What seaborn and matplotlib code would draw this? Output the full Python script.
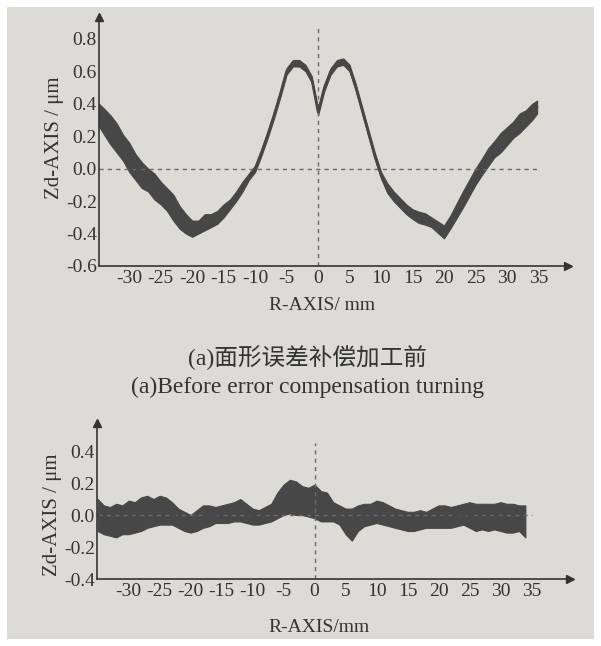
import numpy as np
import matplotlib
matplotlib.use("Agg")
import matplotlib.pyplot as plt
import seaborn as sns
import pandas as pd
from matplotlib.patches import Rectangle

# ---- data (values in um, positions in mm) ----
# (a) before compensation: centre of the measured band and its half width
R_TOP = [-34.8] + list(range(-34, 35)) + [34.8]
Z_TOP = [0.33, 0.29, 0.24, 0.19, 0.13, 0.07, 0.01, -0.04, -0.07, -0.11,
         -0.15, -0.19, -0.24, -0.30, -0.34, -0.37, -0.36, -0.33, -0.32, -0.30,
         -0.26, -0.22, -0.17, -0.11, -0.05, 0.00, 0.10, 0.21, 0.33, 0.46,
         0.60, 0.65, 0.65, 0.62, 0.55, 0.35, 0.50, 0.60, 0.65, 0.66,
         0.62, 0.50, 0.36, 0.22, 0.08, -0.04, -0.12, -0.17, -0.21, -0.25,
         -0.28, -0.30, -0.31, -0.33, -0.36, -0.39, -0.33, -0.26, -0.19, -0.12,
         -0.05, 0.01, 0.07, 0.12, 0.16, 0.20, 0.24, 0.28, 0.31, 0.35,
         0.38]
HW_TOP = [0.07, 0.08, 0.09, 0.09, 0.08, 0.09, 0.08, 0.08, 0.07, 0.08,
          0.07, 0.07, 0.08, 0.07, 0.06, 0.05, 0.04, 0.05, 0.04, 0.04,
          0.04, 0.03, 0.03, 0.03, 0.02, 0.02, 0.02, 0.02, 0.02, 0.02,
          0.02, 0.02, 0.02, 0.02, 0.02, 0.02, 0.02, 0.02, 0.02, 0.02,
          0.02, 0.02, 0.02, 0.02, 0.02, 0.02, 0.03, 0.03, 0.03, 0.03,
          0.03, 0.035, 0.035, 0.03, 0.035, 0.04, 0.04, 0.045, 0.05, 0.05,
          0.05, 0.05, 0.055, 0.05, 0.06, 0.055, 0.05, 0.06, 0.05, 0.05,
          0.04]

# (b) after compensation: upper / lower edge of the measured band
R_BOT = list(range(-35, 35))
UP_BOT = [0.10, 0.06, 0.05, 0.07, 0.06, 0.09, 0.08, 0.11, 0.12, 0.10,
          0.12, 0.11, 0.08, 0.04, 0.02, 0.00, 0.03, 0.06, 0.06, 0.05,
          0.06, 0.07, 0.08, 0.10, 0.07, 0.04, 0.03, 0.05, 0.07, 0.14,
          0.19, 0.22, 0.21, 0.18, 0.17, 0.19, 0.15, 0.14, 0.08, 0.06,
          0.04, 0.04, 0.06, 0.07, 0.07, 0.09, 0.08, 0.06, 0.04, 0.03,
          0.02, 0.02, 0.03, 0.02, 0.04, 0.06, 0.06, 0.05, 0.06, 0.07,
          0.08, 0.07, 0.07, 0.07, 0.07, 0.08, 0.07, 0.07, 0.06, 0.06]
LO_BOT = [-0.10, -0.12, -0.13, -0.14, -0.12, -0.12, -0.11, -0.10, -0.08, -0.07,
          -0.06, -0.06, -0.06, -0.08, -0.10, -0.11, -0.10, -0.08, -0.07, -0.05,
          -0.05, -0.05, -0.04, -0.04, -0.05, -0.06, -0.06, -0.05, -0.04, -0.02,
          0.00, 0.01, 0.00, 0.00, -0.01, -0.02, -0.04, -0.04, -0.04, -0.06,
          -0.12, -0.16, -0.10, -0.07, -0.06, -0.05, -0.06, -0.07, -0.08, -0.09,
          -0.10, -0.10, -0.09, -0.08, -0.08, -0.08, -0.08, -0.08, -0.07, -0.06,
          -0.08, -0.10, -0.09, -0.10, -0.09, -0.10, -0.11, -0.11, -0.10, -0.14]

X_TICKS = [-30, -25, -20, -15, -10, -5, 0, 5, 10, 15, 20, 25, 30, 35]
Y_TICKS_TOP = [-0.6, -0.4, -0.2, 0.0, 0.2, 0.4, 0.6, 0.8]
Y_TICKS_BOT = [-0.4, -0.2, 0.0, 0.2, 0.4]

PAPER = "#dddbd5"
INK = "#333333"
TRACE = "#474747"

sns.set_theme(style="white")
plt.rcParams["font.family"] = ["Liberation Serif", "Noto Sans CJK SC"]
plt.rcParams["axes.unicode_minus"] = False
plt.rcParams["text.color"] = INK
plt.rcParams["axes.labelcolor"] = INK
plt.rcParams["xtick.color"] = INK
plt.rcParams["ytick.color"] = INK

W, H = 601, 646
fig = plt.figure(figsize=(W / 100, H / 100), dpi=100, facecolor="white")
fig.patches.append(Rectangle((7 / W, 7 / H), 587 / W, 632 / H,
                             transform=fig.transFigure, facecolor=PAPER,
                             edgecolor="none", zorder=-10))


def px_axes(left, top, right, bottom):
    return fig.add_axes([left / W, 1 - bottom / H, (right - left) / W, (bottom - top) / H])


def style_axes(ax, yticks):
    ax.set_facecolor("none")
    for s in ["top", "right"]:
        ax.spines[s].set_visible(False)
    for s in ["left", "bottom"]:
        ax.spines[s].set_color(INK)
        ax.spines[s].set_linewidth(1.2)
    ax.set_xticks(X_TICKS)
    ax.set_xticklabels([str(t) for t in X_TICKS])
    ax.set_yticks(yticks)
    ax.set_yticklabels([f"{t:.1f}" for t in yticks])
    ax.tick_params(axis="x", direction="in", length=4, width=1, pad=3, labelsize=14)
    ax.tick_params(axis="y", direction="in", length=4, width=1, pad=1.5, labelsize=14)
    ax.plot(1, 0, ">", color=INK, ms=6, transform=ax.transAxes, clip_on=False)
    ax.plot(0, 1, "^", color=INK, ms=6, transform=ax.transAxes, clip_on=False)


# ---- top panel ----
ax1 = px_axes(99, 17, 568, 266)
top = pd.DataFrame({"r": R_TOP, "z": Z_TOP, "hw": HW_TOP})
ax1.hlines(0, -34.8, 35, colors="#6a6a6a", linestyles=(0, (3, 3)), linewidth=1)
ax1.vlines(0, -0.6, 0.87, colors="#6a6a6a", linestyles=(0, (3, 3)), linewidth=1)
ax1.fill_between(top["r"], top["z"] - top["hw"], top["z"] + top["hw"],
                 color=TRACE, linewidth=0.8)
sns.lineplot(data=top, x="r", y="z", ax=ax1, color=TRACE, linewidth=1.8)
ax1.set_xlim(-34.8, 39.7)
ax1.set_ylim(-0.6, 0.935)
style_axes(ax1, Y_TICKS_TOP)
ax1.set_xlabel("R-AXIS/ mm", fontsize=14)
ax1.set_ylabel("Zd-AXIS / μm", fontsize=15)
ax1.xaxis.set_label_coords((322 - 99) / 469, -(305 - 266) / 249)
ax1.xaxis.label.set_va("center")
ax1.yaxis.set_label_coords((55 - 99) / 469, (266 - 138) / 249)
ax1.yaxis.label.set_va("center")

fig.text(307 / W, 1 - 358 / H, "(a)面形误差补偿加工前", fontsize=17,
         ha="center", va="center")
fig.text(308 / W, 1 - 387 / H, "(a)Before error compensation turning", fontsize=17,
         ha="center", va="center")

# ---- bottom panel ----
ax2 = px_axes(97, 423, 570, 579)
bot = pd.DataFrame({"r": R_BOT, "up": UP_BOT, "lo": LO_BOT})
bot["mid"] = (bot["up"] + bot["lo"]) / 2
ax2.hlines(0, -35, 35, colors="#6a6a6a", linestyles=(0, (3, 3)), linewidth=1)
ax2.fill_between(bot["r"], bot["lo"], bot["up"], color=TRACE, linewidth=0.8)
sns.lineplot(data=bot, x="r", y="mid", ax=ax2, color=TRACE, linewidth=1.2)
ax2.vlines(0, -0.4, 0.45, colors="#6a6a6a", linestyles=(0, (3, 3)), linewidth=1)
ax2.set_xlim(-35.1, 41.2)
ax2.set_ylim(-0.4, 0.575)
style_axes(ax2, Y_TICKS_BOT)
ax2.set_xlabel("R-AXIS/mm", fontsize=14)
ax2.set_ylabel("Zd-AXIS / μm", fontsize=15)
ax2.xaxis.set_label_coords((319 - 97) / 473, -(627 - 579) / 156)
ax2.xaxis.label.set_va("center")
ax2.yaxis.set_label_coords((52 - 97) / 473, (579 - 515) / 156)
ax2.yaxis.label.set_va("center")

fig.savefig("out.png", dpi=100, facecolor="white")
